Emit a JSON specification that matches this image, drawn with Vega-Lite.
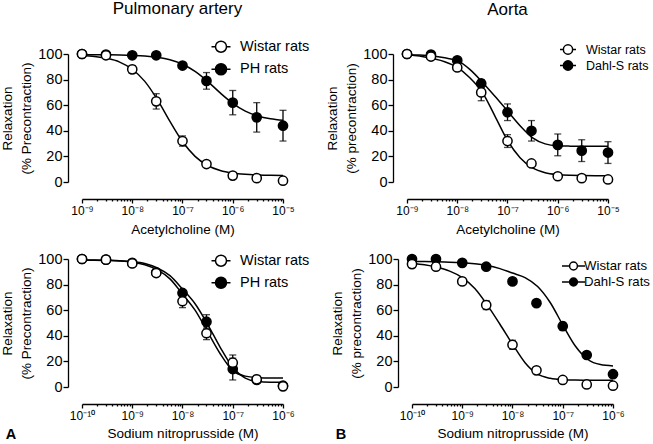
{
  "$schema": "https://vega.github.io/schema/vega-lite/v6.json",
  "padding": {"left": 0, "top": 0, "right": 0, "bottom": 0},
  "config": {
    "font": "Liberation Sans",
    "view": {"stroke": null},
    "axis": {"domainColor": "black", "tickColor": "black", "labelColor": "black", "titleColor": "black", "grid": false, "titleFontWeight": "normal", "domainWidth": 1.3, "tickWidth": 1.3, "labelFont": "Liberation Sans", "titleFont": "Liberation Sans"},
    "axisY": {"offset": 14, "tickSize": 5, "labelPadding": 1, "labelFontSize": 14.5, "titleFontSize": 13.5, "titlePadding": 4, "titleLineHeight": 19, "values": [0, 20, 40, 60, 80, 100]},
    "axisX": {"offset": 17, "labelFontSize": 12, "titleFontSize": 13.5, "labelPadding": 2, "titlePadding": 6.5, "labelOverlap": false, "labelFlush": false},
    "title": {"font": "Liberation Sans", "fontWeight": "normal", "color": "black"},
    "legend": {"title": null, "orient": "none", "padding": 0, "symbolStrokeColor": "black", "symbolStrokeWidth": 1.5, "labelFont": "Liberation Sans", "labelColor": "black"}
  },
  "datasets": {
    "pa_ach_pts": [
      {"conc": 1e-9, "group": "PH rats", "value": 100, "sem": 0},
      {"conc": 3e-9, "group": "PH rats", "value": 99.5, "sem": 0},
      {"conc": 1e-8, "group": "PH rats", "value": 99, "sem": 0},
      {"conc": 3e-8, "group": "PH rats", "value": 99, "sem": 0},
      {"conc": 1e-7, "group": "PH rats", "value": 91, "sem": 0},
      {"conc": 3e-7, "group": "PH rats", "value": 79, "sem": 6.5},
      {"conc": 1e-6, "group": "PH rats", "value": 62, "sem": 9.5},
      {"conc": 3e-6, "group": "PH rats", "value": 50.5, "sem": 11.5},
      {"conc": 1e-5, "group": "PH rats", "value": 44, "sem": 12},
      {"conc": 1e-9, "group": "Wistar rats", "value": 100, "sem": 0},
      {"conc": 3e-9, "group": "Wistar rats", "value": 99, "sem": 0},
      {"conc": 1e-8, "group": "Wistar rats", "value": 88, "sem": 3},
      {"conc": 3e-8, "group": "Wistar rats", "value": 63, "sem": 6},
      {"conc": 1e-7, "group": "Wistar rats", "value": 32, "sem": 4},
      {"conc": 3e-7, "group": "Wistar rats", "value": 14, "sem": 0},
      {"conc": 1e-6, "group": "Wistar rats", "value": 5, "sem": 0},
      {"conc": 3e-6, "group": "Wistar rats", "value": 3, "sem": 0},
      {"conc": 1e-5, "group": "Wistar rats", "value": 1, "sem": 0}
    ],
    "pa_ach_fit": [
      {"conc": 1e-9, "group": "Wistar rats", "value": 98.8},
      {"conc": 1.778e-9, "group": "Wistar rats", "value": 98.1},
      {"conc": 3.162e-9, "group": "Wistar rats", "value": 96.6},
      {"conc": 5.623e-9, "group": "Wistar rats", "value": 93.7},
      {"conc": 1e-8, "group": "Wistar rats", "value": 88.1},
      {"conc": 1.778e-8, "group": "Wistar rats", "value": 78.6},
      {"conc": 3.162e-8, "group": "Wistar rats", "value": 64.4},
      {"conc": 5.623e-8, "group": "Wistar rats", "value": 47.4},
      {"conc": 1e-7, "group": "Wistar rats", "value": 31.6},
      {"conc": 1.778e-7, "group": "Wistar rats", "value": 20.0},
      {"conc": 3.162e-7, "group": "Wistar rats", "value": 12.9},
      {"conc": 5.623e-7, "group": "Wistar rats", "value": 9.0},
      {"conc": 1e-6, "group": "Wistar rats", "value": 7.0},
      {"conc": 1.778e-6, "group": "Wistar rats", "value": 6.0},
      {"conc": 3.162e-6, "group": "Wistar rats", "value": 5.5},
      {"conc": 5.623e-6, "group": "Wistar rats", "value": 5.2},
      {"conc": 1e-5, "group": "Wistar rats", "value": 5.1},
      {"conc": 1e-9, "group": "PH rats", "value": 99.5},
      {"conc": 1.778e-9, "group": "PH rats", "value": 99.5},
      {"conc": 3.162e-9, "group": "PH rats", "value": 99.4},
      {"conc": 5.623e-9, "group": "PH rats", "value": 99.2},
      {"conc": 1e-8, "group": "PH rats", "value": 98.9},
      {"conc": 1.778e-8, "group": "PH rats", "value": 98.4},
      {"conc": 3.162e-8, "group": "PH rats", "value": 97.4},
      {"conc": 5.623e-8, "group": "PH rats", "value": 95.5},
      {"conc": 1e-7, "group": "PH rats", "value": 92.0},
      {"conc": 1.778e-7, "group": "PH rats", "value": 86.4},
      {"conc": 3.162e-7, "group": "PH rats", "value": 78.6},
      {"conc": 5.623e-7, "group": "PH rats", "value": 69.6},
      {"conc": 1e-6, "group": "PH rats", "value": 61.5},
      {"conc": 1.778e-6, "group": "PH rats", "value": 55.4},
      {"conc": 3.162e-6, "group": "PH rats", "value": 51.6},
      {"conc": 5.623e-6, "group": "PH rats", "value": 49.4},
      {"conc": 1e-5, "group": "PH rats", "value": 48.2}
    ],
    "ao_ach_pts": [
      {"conc": 1e-9, "group": "Dahl-S rats", "value": 100, "sem": 0},
      {"conc": 3e-9, "group": "Dahl-S rats", "value": 99.5, "sem": 0},
      {"conc": 1e-8, "group": "Dahl-S rats", "value": 95, "sem": 0},
      {"conc": 3e-8, "group": "Dahl-S rats", "value": 77, "sem": 3},
      {"conc": 1e-7, "group": "Dahl-S rats", "value": 54.5, "sem": 6.5},
      {"conc": 3e-7, "group": "Dahl-S rats", "value": 40, "sem": 8},
      {"conc": 1e-6, "group": "Dahl-S rats", "value": 29, "sem": 8.5},
      {"conc": 3e-6, "group": "Dahl-S rats", "value": 24.5, "sem": 8.5},
      {"conc": 1e-5, "group": "Dahl-S rats", "value": 23, "sem": 8.5},
      {"conc": 1e-9, "group": "Wistar rats", "value": 100, "sem": 0},
      {"conc": 3e-9, "group": "Wistar rats", "value": 98, "sem": 0},
      {"conc": 1e-8, "group": "Wistar rats", "value": 89.5, "sem": 0},
      {"conc": 3e-8, "group": "Wistar rats", "value": 70, "sem": 6.5},
      {"conc": 1e-7, "group": "Wistar rats", "value": 32, "sem": 5},
      {"conc": 3e-7, "group": "Wistar rats", "value": 14.5, "sem": 0},
      {"conc": 1e-6, "group": "Wistar rats", "value": 4.5, "sem": 0},
      {"conc": 3e-6, "group": "Wistar rats", "value": 3, "sem": 0},
      {"conc": 1e-5, "group": "Wistar rats", "value": 2, "sem": 0}
    ],
    "ao_ach_fit": [
      {"conc": 1e-9, "group": "Wistar rats", "value": 99.5},
      {"conc": 1.778e-9, "group": "Wistar rats", "value": 98.5},
      {"conc": 3.162e-9, "group": "Wistar rats", "value": 96.5},
      {"conc": 5.623e-9, "group": "Wistar rats", "value": 94},
      {"conc": 1e-8, "group": "Wistar rats", "value": 89.6},
      {"conc": 1.778e-8, "group": "Wistar rats", "value": 81.5},
      {"conc": 3.162e-8, "group": "Wistar rats", "value": 70},
      {"conc": 5.623e-8, "group": "Wistar rats", "value": 51.5},
      {"conc": 1e-7, "group": "Wistar rats", "value": 32.5},
      {"conc": 1.778e-7, "group": "Wistar rats", "value": 19},
      {"conc": 3.162e-7, "group": "Wistar rats", "value": 11},
      {"conc": 5.623e-7, "group": "Wistar rats", "value": 7.3},
      {"conc": 1e-6, "group": "Wistar rats", "value": 5.8},
      {"conc": 1.778e-6, "group": "Wistar rats", "value": 5.2},
      {"conc": 3.162e-6, "group": "Wistar rats", "value": 5.0},
      {"conc": 5.623e-6, "group": "Wistar rats", "value": 4.9},
      {"conc": 1e-5, "group": "Wistar rats", "value": 4.9},
      {"conc": 1e-9, "group": "Dahl-S rats", "value": 99.5},
      {"conc": 1.778e-9, "group": "Dahl-S rats", "value": 99.2},
      {"conc": 3.162e-9, "group": "Dahl-S rats", "value": 98.5},
      {"conc": 5.623e-9, "group": "Dahl-S rats", "value": 97},
      {"conc": 1e-8, "group": "Dahl-S rats", "value": 94.8},
      {"conc": 1.778e-8, "group": "Dahl-S rats", "value": 88},
      {"conc": 3.162e-8, "group": "Dahl-S rats", "value": 78},
      {"conc": 5.623e-8, "group": "Dahl-S rats", "value": 67},
      {"conc": 1e-7, "group": "Dahl-S rats", "value": 55.5},
      {"conc": 1.778e-7, "group": "Dahl-S rats", "value": 44},
      {"conc": 3.162e-7, "group": "Dahl-S rats", "value": 34.5},
      {"conc": 5.623e-7, "group": "Dahl-S rats", "value": 29.8},
      {"conc": 1e-6, "group": "Dahl-S rats", "value": 28.3},
      {"conc": 1.778e-6, "group": "Dahl-S rats", "value": 28},
      {"conc": 3.162e-6, "group": "Dahl-S rats", "value": 27.9},
      {"conc": 5.623e-6, "group": "Dahl-S rats", "value": 27.9},
      {"conc": 1e-5, "group": "Dahl-S rats", "value": 27.9}
    ],
    "pa_snp_pts": [
      {"conc": 1e-10, "group": "PH rats", "value": 100, "sem": 0},
      {"conc": 3e-10, "group": "PH rats", "value": 99.5, "sem": 0},
      {"conc": 1e-9, "group": "PH rats", "value": 97, "sem": 0},
      {"conc": 3e-9, "group": "PH rats", "value": 89.5, "sem": 0},
      {"conc": 1e-8, "group": "PH rats", "value": 73.5, "sem": 2},
      {"conc": 3e-8, "group": "PH rats", "value": 51, "sem": 5.5},
      {"conc": 1e-7, "group": "PH rats", "value": 14, "sem": 8.5},
      {"conc": 3e-7, "group": "PH rats", "value": 5.5, "sem": 2},
      {"conc": 1e-6, "group": "PH rats", "value": 1, "sem": 0},
      {"conc": 1e-10, "group": "Wistar rats", "value": 100, "sem": 0},
      {"conc": 3e-10, "group": "Wistar rats", "value": 99.5, "sem": 0},
      {"conc": 1e-9, "group": "Wistar rats", "value": 96.5, "sem": 0},
      {"conc": 3e-9, "group": "Wistar rats", "value": 89, "sem": 0},
      {"conc": 1e-8, "group": "Wistar rats", "value": 67, "sem": 5},
      {"conc": 3e-8, "group": "Wistar rats", "value": 42, "sem": 5},
      {"conc": 1e-7, "group": "Wistar rats", "value": 19, "sem": 6},
      {"conc": 3e-7, "group": "Wistar rats", "value": 6, "sem": 3},
      {"conc": 1e-6, "group": "Wistar rats", "value": 0.5, "sem": 0}
    ],
    "pa_snp_fit": [
      {"conc": 1e-10, "group": "Wistar rats", "value": 99},
      {"conc": 1.778e-10, "group": "Wistar rats", "value": 99},
      {"conc": 3.162e-10, "group": "Wistar rats", "value": 98.8},
      {"conc": 5.623e-10, "group": "Wistar rats", "value": 98.4},
      {"conc": 1e-9, "group": "Wistar rats", "value": 97.5},
      {"conc": 1.778e-9, "group": "Wistar rats", "value": 95.5},
      {"conc": 3.162e-9, "group": "Wistar rats", "value": 91.5},
      {"conc": 5.623e-9, "group": "Wistar rats", "value": 84.5},
      {"conc": 1e-8, "group": "Wistar rats", "value": 72.6},
      {"conc": 1.778e-8, "group": "Wistar rats", "value": 60},
      {"conc": 3.162e-8, "group": "Wistar rats", "value": 43},
      {"conc": 5.623e-8, "group": "Wistar rats", "value": 26},
      {"conc": 1e-7, "group": "Wistar rats", "value": 12.8},
      {"conc": 1.778e-7, "group": "Wistar rats", "value": 8.5},
      {"conc": 3.162e-7, "group": "Wistar rats", "value": 7.3},
      {"conc": 5.623e-7, "group": "Wistar rats", "value": 7},
      {"conc": 1e-6, "group": "Wistar rats", "value": 7},
      {"conc": 1e-10, "group": "PH rats", "value": 99.2},
      {"conc": 1.778e-10, "group": "PH rats", "value": 99.2},
      {"conc": 3.162e-10, "group": "PH rats", "value": 99},
      {"conc": 5.623e-10, "group": "PH rats", "value": 98.7},
      {"conc": 1e-9, "group": "PH rats", "value": 98},
      {"conc": 1.778e-9, "group": "PH rats", "value": 96.5},
      {"conc": 3.162e-9, "group": "PH rats", "value": 93},
      {"conc": 5.623e-9, "group": "PH rats", "value": 87},
      {"conc": 1e-8, "group": "PH rats", "value": 76.5},
      {"conc": 1.778e-8, "group": "PH rats", "value": 65},
      {"conc": 3.162e-8, "group": "PH rats", "value": 49},
      {"conc": 5.623e-8, "group": "PH rats", "value": 31},
      {"conc": 1e-7, "group": "PH rats", "value": 15.4},
      {"conc": 1.778e-7, "group": "PH rats", "value": 7},
      {"conc": 3.162e-7, "group": "PH rats", "value": 4.3},
      {"conc": 5.623e-7, "group": "PH rats", "value": 3.8},
      {"conc": 1e-6, "group": "PH rats", "value": 3.7}
    ],
    "ao_snp_pts": [
      {"conc": 1e-10, "group": "Dahl-S rats", "value": 100, "sem": 0},
      {"conc": 3e-10, "group": "Dahl-S rats", "value": 100, "sem": 0},
      {"conc": 1e-9, "group": "Dahl-S rats", "value": 97, "sem": 0},
      {"conc": 3e-9, "group": "Dahl-S rats", "value": 94, "sem": 0},
      {"conc": 1e-8, "group": "Dahl-S rats", "value": 82.5, "sem": 0},
      {"conc": 3e-8, "group": "Dahl-S rats", "value": 65.5, "sem": 0},
      {"conc": 1e-7, "group": "Dahl-S rats", "value": 47.5, "sem": 3},
      {"conc": 3e-7, "group": "Dahl-S rats", "value": 25, "sem": 0},
      {"conc": 1e-6, "group": "Dahl-S rats", "value": 10, "sem": 0},
      {"conc": 1e-10, "group": "Wistar rats", "value": 96, "sem": 0},
      {"conc": 3e-10, "group": "Wistar rats", "value": 94, "sem": 0},
      {"conc": 1e-9, "group": "Wistar rats", "value": 82.5, "sem": 0},
      {"conc": 3e-9, "group": "Wistar rats", "value": 64, "sem": 3.5},
      {"conc": 1e-8, "group": "Wistar rats", "value": 33, "sem": 3.5},
      {"conc": 3e-8, "group": "Wistar rats", "value": 13, "sem": 0},
      {"conc": 1e-7, "group": "Wistar rats", "value": 5.5, "sem": 0},
      {"conc": 3e-7, "group": "Wistar rats", "value": 2, "sem": 0},
      {"conc": 1e-6, "group": "Wistar rats", "value": 1, "sem": 0}
    ],
    "ao_snp_fit": [
      {"conc": 1e-10, "group": "Wistar rats", "value": 96.5},
      {"conc": 1.778e-10, "group": "Wistar rats", "value": 95.5},
      {"conc": 3.162e-10, "group": "Wistar rats", "value": 93.5},
      {"conc": 5.623e-10, "group": "Wistar rats", "value": 90.5},
      {"conc": 1e-9, "group": "Wistar rats", "value": 85.5},
      {"conc": 1.778e-9, "group": "Wistar rats", "value": 77},
      {"conc": 3.162e-9, "group": "Wistar rats", "value": 64},
      {"conc": 5.623e-9, "group": "Wistar rats", "value": 49},
      {"conc": 1e-8, "group": "Wistar rats", "value": 33.5},
      {"conc": 1.778e-8, "group": "Wistar rats", "value": 19},
      {"conc": 3.162e-8, "group": "Wistar rats", "value": 10},
      {"conc": 5.623e-8, "group": "Wistar rats", "value": 6.8},
      {"conc": 1e-7, "group": "Wistar rats", "value": 5.7},
      {"conc": 1.778e-7, "group": "Wistar rats", "value": 5.4},
      {"conc": 3.162e-7, "group": "Wistar rats", "value": 5.3},
      {"conc": 5.623e-7, "group": "Wistar rats", "value": 5.2},
      {"conc": 1e-6, "group": "Wistar rats", "value": 5.2},
      {"conc": 1e-10, "group": "Dahl-S rats", "value": 98},
      {"conc": 1.778e-10, "group": "Dahl-S rats", "value": 98},
      {"conc": 3.162e-10, "group": "Dahl-S rats", "value": 97.8},
      {"conc": 5.623e-10, "group": "Dahl-S rats", "value": 97.5},
      {"conc": 1e-9, "group": "Dahl-S rats", "value": 97},
      {"conc": 1.778e-9, "group": "Dahl-S rats", "value": 96.2},
      {"conc": 3.162e-9, "group": "Dahl-S rats", "value": 95},
      {"conc": 5.623e-9, "group": "Dahl-S rats", "value": 92.5},
      {"conc": 1e-8, "group": "Dahl-S rats", "value": 89},
      {"conc": 1.778e-8, "group": "Dahl-S rats", "value": 85.5},
      {"conc": 3.162e-8, "group": "Dahl-S rats", "value": 78.5},
      {"conc": 5.623e-8, "group": "Dahl-S rats", "value": 66},
      {"conc": 1e-7, "group": "Dahl-S rats", "value": 48.5},
      {"conc": 1.778e-7, "group": "Dahl-S rats", "value": 32},
      {"conc": 3.162e-7, "group": "Dahl-S rats", "value": 21.5},
      {"conc": 5.623e-7, "group": "Dahl-S rats", "value": 17.5},
      {"conc": 1e-6, "group": "Dahl-S rats", "value": 16.5}
    ]
  },
  "resolve": {"scale": {"fill": "independent"}, "legend": {"fill": "independent"}},
  "spacing": 14,
  "vconcat": [
    {
      "resolve": {"scale": {"fill": "independent"}, "legend": {"fill": "independent"}},
      "spacing": 15,
      "hconcat": [
        {
          "width": 201, "height": 128,
          "title": {"text": "Pulmonary artery", "fontSize": 17, "anchor": "middle", "offset": 18, "dx": -5},
          "layer": [
            {
              "data": {"name": "pa_ach_fit"},
              "mark": {"type": "line", "color": "black", "strokeWidth": 1.5, "interpolate": "monotone"},
              "encoding": {
                "x": {"field": "conc", "type": "quantitative", "title": "Acetylcholine (M)", "scale": {"type": "log", "domain": [1e-9, 1e-5], "nice": false},
                  "axis": {"values": [1e-9,2e-9,3e-9,4e-9,5e-9,6e-9,7e-9,8e-9,9e-9,1e-8,2e-8,3e-8,4e-8,5e-8,6e-8,7e-8,8e-8,9e-8,1e-7,2e-7,3e-7,4e-7,5e-7,6e-7,7e-7,8e-7,9e-7,1e-6,2e-6,3e-6,4e-6,5e-6,6e-6,7e-6,8e-6,9e-6,1e-5],
                    "tickSize": {"condition": {"test": "abs(log(datum.value)/LN10 - round(log(datum.value)/LN10)) < 0.01", "value": 4}, "value": 2},
                    "labelExpr": "abs(log(datum.value)/LN10 - round(log(datum.value)/LN10)) < 0.01 ? '10' + ['⁰','⁻¹','⁻²','⁻³','⁻⁴','⁻⁵','⁻⁶','⁻⁷','⁻⁸','⁻⁹','⁻¹⁰'][-round(log(datum.value)/LN10)] : ''"}},
                "y": {"field": "value", "type": "quantitative", "title": ["Relaxation", "(% Precontraction)"], "scale": {"domain": [0, 100], "nice": false, "zero": false}},
                "detail": {"field": "group"}
              }
            },
            {
              "data": {"name": "pa_ach_pts"},
              "transform": [{"filter": "datum.sem > 0"}],
              "mark": {"type": "errorbar", "color": "black", "thickness": 1.3, "ticks": {"size": 7, "thickness": 1.3, "color": "black"}},
              "encoding": {
                "x": {"field": "conc", "type": "quantitative", "title": "Acetylcholine (M)"},
                "y": {"field": "value", "type": "quantitative", "title": ["Relaxation", "(% Precontraction)"]},
                "yError": {"field": "sem"},
                "detail": {"field": "group"}
              }
            },
            {
              "data": {"name": "pa_ach_pts"},
              "mark": {"type": "point", "filled": true, "size": 85, "stroke": "black", "strokeWidth": 1.5, "opacity": 1},
              "encoding": {
                "x": {"field": "conc", "type": "quantitative", "title": "Acetylcholine (M)"},
                "y": {"field": "value", "type": "quantitative", "title": ["Relaxation", "(% Precontraction)"]},
                "fill": {"field": "group", "type": "nominal", "scale": {"domain": ["Wistar rats", "PH rats"], "range": ["white", "black"]},
                  "legend": {"legendX": 128.5, "legendY": -17.8, "symbolSize": 361, "symbolType": "M-1,0L-0.58,0M0.58,0L1,0M0.58,0A0.58,0.58,0,1,1,-0.58,0A0.58,0.58,0,1,1,0.58,0", "labelFontSize": 14.5, "labelOffset": 8.5, "rowPadding": 2.6}}
              }
            }
          ]
        },
        {
          "width": 201, "height": 128,
          "title": {"text": "Aorta", "fontSize": 17, "anchor": "middle", "offset": 24},
          "layer": [
            {
              "data": {"name": "ao_ach_fit"},
              "mark": {"type": "line", "color": "black", "strokeWidth": 1.5, "interpolate": "monotone"},
              "encoding": {
                "x": {"field": "conc", "type": "quantitative", "title": "Acetylcholine (M)", "scale": {"type": "log", "domain": [1e-9, 1e-5], "nice": false},
                  "axis": {"values": [1e-9,2e-9,3e-9,4e-9,5e-9,6e-9,7e-9,8e-9,9e-9,1e-8,2e-8,3e-8,4e-8,5e-8,6e-8,7e-8,8e-8,9e-8,1e-7,2e-7,3e-7,4e-7,5e-7,6e-7,7e-7,8e-7,9e-7,1e-6,2e-6,3e-6,4e-6,5e-6,6e-6,7e-6,8e-6,9e-6,1e-5],
                    "tickSize": {"condition": {"test": "abs(log(datum.value)/LN10 - round(log(datum.value)/LN10)) < 0.01", "value": 4}, "value": 2},
                    "labelExpr": "abs(log(datum.value)/LN10 - round(log(datum.value)/LN10)) < 0.01 ? '10' + ['⁰','⁻¹','⁻²','⁻³','⁻⁴','⁻⁵','⁻⁶','⁻⁷','⁻⁸','⁻⁹','⁻¹⁰'][-round(log(datum.value)/LN10)] : ''"}},
                "y": {"field": "value", "type": "quantitative", "title": ["Relaxation", "(% precontraction)"], "scale": {"domain": [0, 100], "nice": false, "zero": false}},
                "detail": {"field": "group"}
              }
            },
            {
              "data": {"name": "ao_ach_pts"},
              "transform": [{"filter": "datum.sem > 0"}],
              "mark": {"type": "errorbar", "color": "black", "thickness": 1.3, "ticks": {"size": 7, "thickness": 1.3, "color": "black"}},
              "encoding": {
                "x": {"field": "conc", "type": "quantitative", "title": "Acetylcholine (M)"},
                "y": {"field": "value", "type": "quantitative", "title": ["Relaxation", "(% precontraction)"]},
                "yError": {"field": "sem"},
                "detail": {"field": "group"}
              }
            },
            {
              "data": {"name": "ao_ach_pts"},
              "mark": {"type": "point", "filled": true, "size": 85, "stroke": "black", "strokeWidth": 1.5, "opacity": 1},
              "encoding": {
                "x": {"field": "conc", "type": "quantitative", "title": "Acetylcholine (M)"},
                "y": {"field": "value", "type": "quantitative", "title": ["Relaxation", "(% precontraction)"]},
                "fill": {"field": "group", "type": "nominal", "scale": {"domain": ["Wistar rats", "Dahl-S rats"], "range": ["white", "black"]},
                  "legend": {"legendX": 154, "legendY": -11.5, "symbolSize": 144, "symbolType": "M-1.333,0L-0.773,0M0.773,0L1.333,0M0.773,0A0.773,0.773,0,1,1,-0.773,0A0.773,0.773,0,1,1,0.773,0", "labelFontSize": 12.5, "labelOffset": 11, "rowPadding": 0}}
              }
            }
          ]
        }
      ]
    },
    {
      "resolve": {"scale": {"fill": "independent"}, "legend": {"fill": "independent"}},
      "spacing": 20,
      "hconcat": [
        {
          "width": 201, "height": 128,
          "title": {"text": "A", "fontSize": 14.5, "fontWeight": "bold", "orient": "bottom", "anchor": "start", "dy": -16, "dx": 5},
          "layer": [
            {
              "data": {"name": "pa_snp_fit"},
              "mark": {"type": "line", "color": "black", "strokeWidth": 1.5, "interpolate": "monotone"},
              "encoding": {
                "x": {"field": "conc", "type": "quantitative", "title": "Sodium nitroprusside (M)", "scale": {"type": "log", "domain": [1e-10, 1e-6], "nice": false},
                  "axis": {"titlePadding": 5, "values": [1e-10,2e-10,3e-10,4e-10,5e-10,6e-10,7e-10,8e-10,9e-10,1e-9,2e-9,3e-9,4e-9,5e-9,6e-9,7e-9,8e-9,9e-9,1e-8,2e-8,3e-8,4e-8,5e-8,6e-8,7e-8,8e-8,9e-8,1e-7,2e-7,3e-7,4e-7,5e-7,6e-7,7e-7,8e-7,9e-7,1e-6],
                    "tickSize": {"condition": {"test": "abs(log(datum.value)/LN10 - round(log(datum.value)/LN10)) < 0.01", "value": 4}, "value": 2},
                    "labelExpr": "abs(log(datum.value)/LN10 - round(log(datum.value)/LN10)) < 0.01 ? '10' + ['⁰','⁻¹','⁻²','⁻³','⁻⁴','⁻⁵','⁻⁶','⁻⁷','⁻⁸','⁻⁹','⁻¹⁰'][-round(log(datum.value)/LN10)] : ''"}},
                "y": {"field": "value", "type": "quantitative", "title": ["Relaxation", "(% Precontraction)"], "scale": {"domain": [0, 100], "nice": false, "zero": false}},
                "detail": {"field": "group"}
              }
            },
            {
              "data": {"name": "pa_snp_pts"},
              "transform": [{"filter": "datum.sem > 0"}],
              "mark": {"type": "errorbar", "color": "black", "thickness": 1.3, "ticks": {"size": 7, "thickness": 1.3, "color": "black"}},
              "encoding": {
                "x": {"field": "conc", "type": "quantitative", "title": "Sodium nitroprusside (M)"},
                "y": {"field": "value", "type": "quantitative", "title": ["Relaxation", "(% Precontraction)"]},
                "yError": {"field": "sem"},
                "detail": {"field": "group"}
              }
            },
            {
              "data": {"name": "pa_snp_pts"},
              "mark": {"type": "point", "filled": true, "size": 85, "stroke": "black", "strokeWidth": 1.5, "opacity": 1},
              "encoding": {
                "x": {"field": "conc", "type": "quantitative", "title": "Sodium nitroprusside (M)"},
                "y": {"field": "value", "type": "quantitative", "title": ["Relaxation", "(% Precontraction)"]},
                "fill": {"field": "group", "type": "nominal", "scale": {"domain": ["Wistar rats", "PH rats"], "range": ["white", "black"]},
                  "legend": {"legendX": 128.5, "legendY": -8.8, "symbolSize": 361, "symbolType": "M-1,0L-0.58,0M0.58,0L1,0M0.58,0A0.58,0.58,0,1,1,-0.58,0A0.58,0.58,0,1,1,0.58,0", "labelFontSize": 14.5, "labelOffset": 8.5, "rowPadding": 2}}
              }
            }
          ]
        },
        {
          "width": 201, "height": 128,
          "title": {"text": "B", "fontSize": 14.5, "fontWeight": "bold", "orient": "bottom", "anchor": "start", "dy": -16, "dx": 5},
          "layer": [
            {
              "data": {"name": "ao_snp_fit"},
              "mark": {"type": "line", "color": "black", "strokeWidth": 1.5, "interpolate": "monotone"},
              "encoding": {
                "x": {"field": "conc", "type": "quantitative", "title": "Sodium nitroprusside (M)", "scale": {"type": "log", "domain": [1e-10, 1e-6], "nice": false},
                  "axis": {"titlePadding": 5, "values": [1e-10,2e-10,3e-10,4e-10,5e-10,6e-10,7e-10,8e-10,9e-10,1e-9,2e-9,3e-9,4e-9,5e-9,6e-9,7e-9,8e-9,9e-9,1e-8,2e-8,3e-8,4e-8,5e-8,6e-8,7e-8,8e-8,9e-8,1e-7,2e-7,3e-7,4e-7,5e-7,6e-7,7e-7,8e-7,9e-7,1e-6],
                    "tickSize": {"condition": {"test": "abs(log(datum.value)/LN10 - round(log(datum.value)/LN10)) < 0.01", "value": 4}, "value": 2},
                    "labelExpr": "abs(log(datum.value)/LN10 - round(log(datum.value)/LN10)) < 0.01 ? '10' + ['⁰','⁻¹','⁻²','⁻³','⁻⁴','⁻⁵','⁻⁶','⁻⁷','⁻⁸','⁻⁹','⁻¹⁰'][-round(log(datum.value)/LN10)] : ''"}},
                "y": {"field": "value", "type": "quantitative", "title": ["Relaxation", "(% precontraction)"], "scale": {"domain": [0, 100], "nice": false, "zero": false}},
                "detail": {"field": "group"}
              }
            },
            {
              "data": {"name": "ao_snp_pts"},
              "transform": [{"filter": "datum.sem > 0"}],
              "mark": {"type": "errorbar", "color": "black", "thickness": 1.3, "ticks": {"size": 7, "thickness": 1.3, "color": "black"}},
              "encoding": {
                "x": {"field": "conc", "type": "quantitative", "title": "Sodium nitroprusside (M)"},
                "y": {"field": "value", "type": "quantitative", "title": ["Relaxation", "(% precontraction)"]},
                "yError": {"field": "sem"},
                "detail": {"field": "group"}
              }
            },
            {
              "data": {"name": "ao_snp_pts"},
              "mark": {"type": "point", "filled": true, "size": 85, "stroke": "black", "strokeWidth": 1.5, "opacity": 1},
              "encoding": {
                "x": {"field": "conc", "type": "quantitative", "title": "Sodium nitroprusside (M)"},
                "y": {"field": "value", "type": "quantitative", "title": ["Relaxation", "(% precontraction)"]},
                "fill": {"field": "group", "type": "nominal", "scale": {"domain": ["Wistar rats", "Dahl-S rats"], "range": ["white", "black"]},
                  "legend": {"legendX": 152.5, "legendY": -2, "symbolSize": 256, "symbolType": "M-1.44,0L-0.49,0M0.49,0L1.44,0M0.49,0A0.49,0.49,0,1,1,-0.49,0A0.49,0.49,0,1,1,0.49,0", "labelFontSize": 13.2, "labelOffset": 1.5, "rowPadding": 0}}
              }
            }
          ]
        }
      ]
    }
  ]
}
